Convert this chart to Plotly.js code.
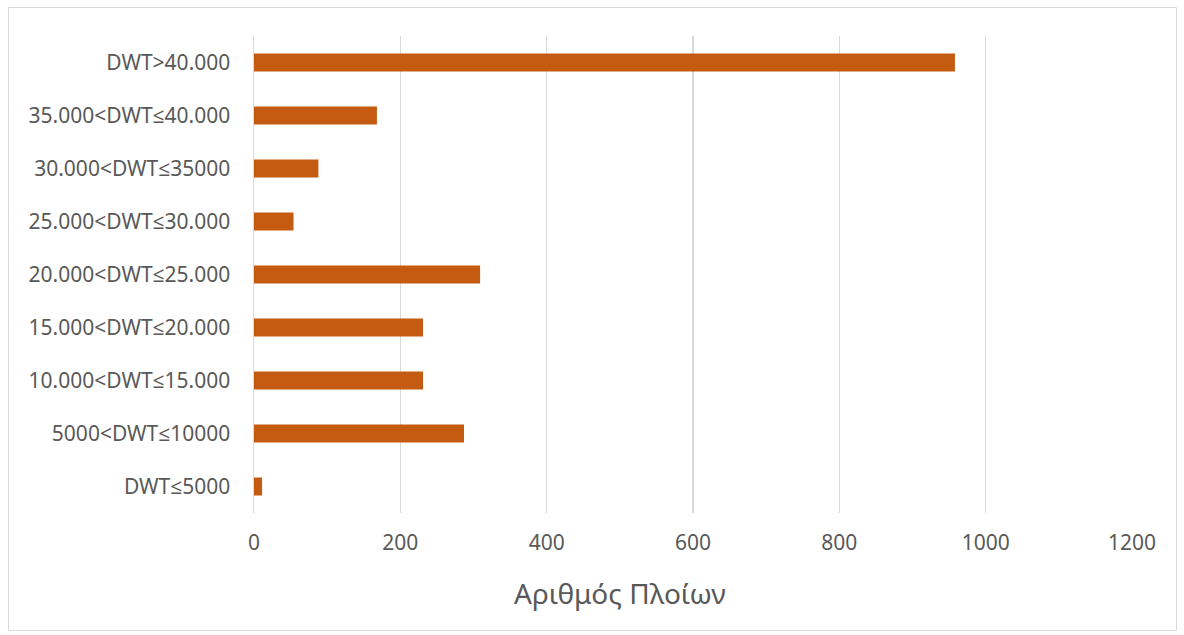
<!DOCTYPE html>
<html>
<head>
<meta charset="utf-8">
<script src="https://cdn.plot.ly/plotly-3.0.1.min.js"></script>
<style>
  html, body { margin: 0; padding: 0; background: #ffffff; }
  #chart { width: 1184px; height: 635px; }
</style>
</head>
<body>
<div id="chart"></div>
<script>
// DWT size classes, listed top to bottom as drawn
const categories = [
  "DWT>40.000",
  "35.000<DWT≤40.000",
  "30.000<DWT≤35000",
  "25.000<DWT≤30.000",
  "20.000<DWT≤25.000",
  "15.000<DWT≤20.000",
  "10.000<DWT≤15.000",
  "5000<DWT≤10000",
  "DWT≤5000"
];
// Number of ships in each class
const shipCounts = [958, 168, 88, 54, 309, 231, 231, 287, 11];
const xTickValues = [0, 200, 400, 600, 800, 1000, 1200];
const xTitle = "Αριθμός Πλοίων";

const textColor = "#595959";
const gridColor = "#D9D9D9";
const barColor = "#C55A11";
const fontFamily = "'Noto Sans', 'Open Sans', sans-serif";

const W = 1184, H = 635;
const margin = { l: 254, r: 52, t: 36, b: 122, pad: 0 };
const plotW = W - margin.l - margin.r;
const plotH = H - margin.t - margin.b;

// pixel -> paper unit helpers for the frame and the axis caption
const px2x = p => (p - margin.l) / plotW;
const py2y = p => 1 - (p - margin.t) / plotH;

const data = [{
  type: "bar",
  orientation: "h",
  x: shipCounts,
  y: categories,
  marker: { color: barColor, line: { width: 0 } },
  hoverinfo: "x+y"
}];

const layout = {
  width: W,
  height: H,
  margin: margin,
  paper_bgcolor: "#ffffff",
  plot_bgcolor: "#ffffff",
  showlegend: false,
  bargap: 0.66,
  font: { family: fontFamily, color: textColor, size: 21 },
  xaxis: {
    range: [0, 1200],
    tickvals: xTickValues,
    ticktext: xTickValues.map(String),
    showgrid: true,
    gridcolor: gridColor,
    gridwidth: 1.5,
    zeroline: false,
    showline: false,
    ticks: "",
    ticklabelstandoff: 15,
    tickfont: { family: fontFamily, size: 21, color: textColor },
    fixedrange: true
  },
  yaxis: {
    type: "category",
    autorange: "reversed",
    showgrid: false,
    zeroline: false,
    showline: true,
    linecolor: gridColor,
    linewidth: 1.5,
    ticks: "",
    ticklabelstandoff: 18,
    tickfont: { family: fontFamily, size: 21, color: textColor },
    fixedrange: true
  },
  annotations: [{
    text: xTitle,
    xref: "paper",
    yref: "paper",
    x: px2x(620),
    y: py2y(593),
    xanchor: "center",
    yanchor: "middle",
    showarrow: false,
    font: { family: fontFamily, size: 28, color: textColor }
  }],
  shapes: [{
    type: "rect",
    xref: "paper",
    yref: "paper",
    x0: px2x(8.5),
    x1: px2x(1176.5),
    y0: py2y(630.5),
    y1: py2y(7.5),
    line: { color: gridColor, width: 1 },
    fillcolor: "rgba(0,0,0,0)",
    layer: "below"
  }]
};

Plotly.newPlot("chart", data, layout, { displayModeBar: false, staticPlot: true });
</script>
</body>
</html>
